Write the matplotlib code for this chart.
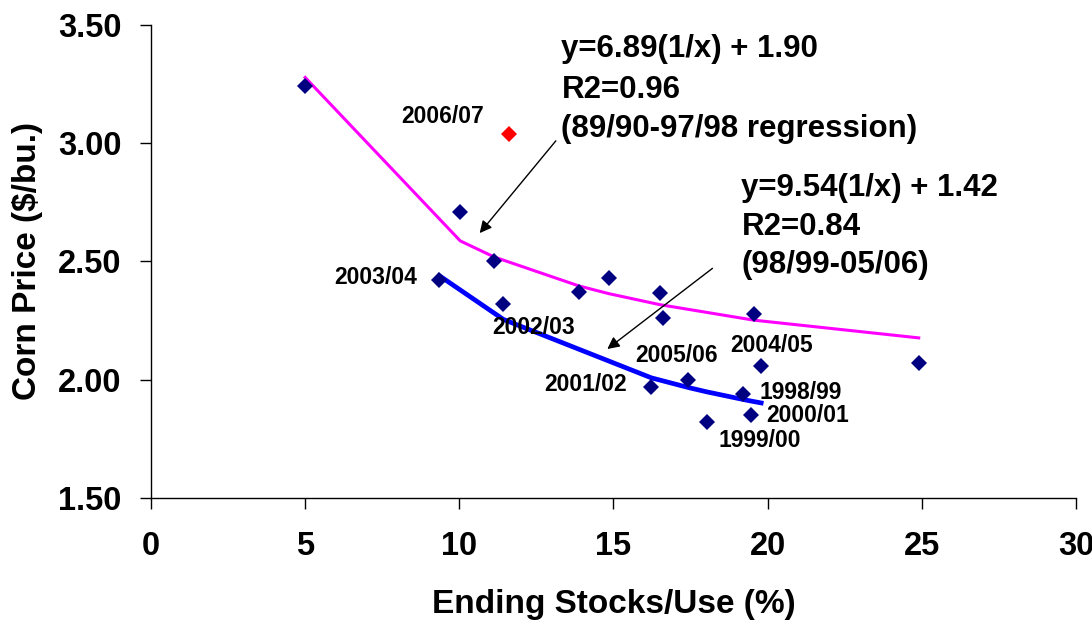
import matplotlib
matplotlib.use("Agg")
import matplotlib.pyplot as plt

plt.rcParams['font.family'] = ['Liberation Sans', 'DejaVu Sans']
plt.rcParams['font.weight'] = 'bold'

# 89/90-97/98 points (ending stocks/use %, price $/bu.)
old_x = [5.0, 10.03, 11.13, 13.87, 14.85, 16.52, 16.62, 19.55, 24.9]
old_y = [3.24, 2.71, 2.50, 2.37, 2.43, 2.365, 2.26, 2.28, 2.07]

# 98/99-05/06 points
new_years = ['2003/04', '2002/03', '2001/02', '2005/06', '1999/00', '1998/99', '2000/01', '2004/05']
new_x = [9.35, 11.43, 16.23, 17.43, 18.02, 19.19, 19.46, 19.79]
new_y = [2.42, 2.32, 1.97, 2.00, 1.82, 1.94, 1.85, 2.06]

# 2006/07
cur_x = [11.61]
cur_y = [3.04]

# fitted lines as drawn
fit_old_x = [5.0, 10.03, 11.13, 13.87, 14.85, 16.52, 16.62, 19.55, 24.9]
fit_old_y = [3.278, 2.587, 2.519, 2.397, 2.364, 2.317, 2.315, 2.252, 2.177]
fit_new_x = [9.35, 11.43, 16.23, 17.43, 18.02, 19.19, 19.46, 19.79]
fit_new_y = [2.440, 2.255, 2.008, 1.967, 1.949, 1.917, 1.910, 1.902]

# year labels: text, x, y (baseline)
label_text = ['2006/07', '2003/04', '2002/03', '2001/02', '2005/06', '2004/05', '1998/99', '2000/01', '1999/00']
label_x = [8.13, 5.93, 11.08, 12.77, 15.69, 18.79, 19.72, 19.96, 18.42]
label_y = [3.084, 2.404, 2.192, 1.952, 2.077, 2.116, 1.918, 1.821, 1.714]

eq1 = ['y=6.89(1/x) + 1.90', 'R2=0.96', '(89/90-97/98 regression)']
eq1_y = [3.363, 3.193, 3.028]
eq2 = ['y=9.54(1/x) + 1.42', 'R2=0.84', '(98/99-05/06)']
eq2_y = [2.778, 2.612, 2.450]

fig = plt.figure(figsize=(10.92, 6.24), dpi=100)
ax = fig.add_axes([0.1383, 0.2019, 0.847, 0.7581])

ax.plot(fit_old_x, fit_old_y, color='#FF00FF', lw=2.2, zorder=2)
ax.plot(fit_new_x, fit_new_y, color='#0000FF', lw=3.4, zorder=2)
ax.plot(old_x + new_x, old_y + new_y, 'D', color='#000080', ms=8.6, mew=0, zorder=3)
ax.plot(cur_x, cur_y, 'D', color='#FF0000', ms=8.6, mew=0, zorder=3)

for t, x, y in zip(label_text, label_x, label_y):
    ax.text(x, y, t, fontsize=16.5, fontweight='bold', va='baseline', ha='left')

for t, y in zip(eq1, eq1_y):
    ax.text(13.31, y, t, fontsize=22.5, fontweight='bold', va='baseline', ha='left')
for t, y in zip(eq2, eq2_y):
    ax.text(19.15, y, t, fontsize=22.5, fontweight='bold', va='baseline', ha='left')

arrow = dict(arrowstyle='-|>', color='black', lw=1.0, mutation_scale=18, shrinkA=0, shrinkB=0)
ax.annotate('', xy=(10.66, 2.62), xytext=(13.13, 3.01), arrowprops=arrow)
ax.annotate('', xy=(14.80, 2.13), xytext=(18.21, 2.471), arrowprops=arrow)

ax.set_xlim(0, 30)
ax.set_ylim(1.5, 3.5)
ax.set_xticks(range(0, 31, 5))
ax.set_yticks([1.5, 2.0, 2.5, 3.0, 3.5])
ax.set_yticklabels(['1.50', '2.00', '2.50', '3.00', '3.50'])
ax.spines['top'].set_visible(False)
ax.spines['right'].set_visible(False)
ax.spines['left'].set_linewidth(1.0)
ax.spines['bottom'].set_linewidth(1.0)
ax.tick_params(direction='out', length=8, width=1.0, labelsize=23.5)
ax.tick_params(axis='x', pad=16)
ax.tick_params(axis='y', pad=13)
for lab in ax.get_xticklabels() + ax.get_yticklabels():
    lab.set_fontweight('bold')

ax.set_xlabel('Ending Stocks/Use (%)', fontsize=24, fontweight='bold', labelpad=19)
ax.set_ylabel('Corn Price ($/bu.)', fontsize=24, fontweight='bold', labelpad=11)

fig.savefig('out.png', dpi=100)
